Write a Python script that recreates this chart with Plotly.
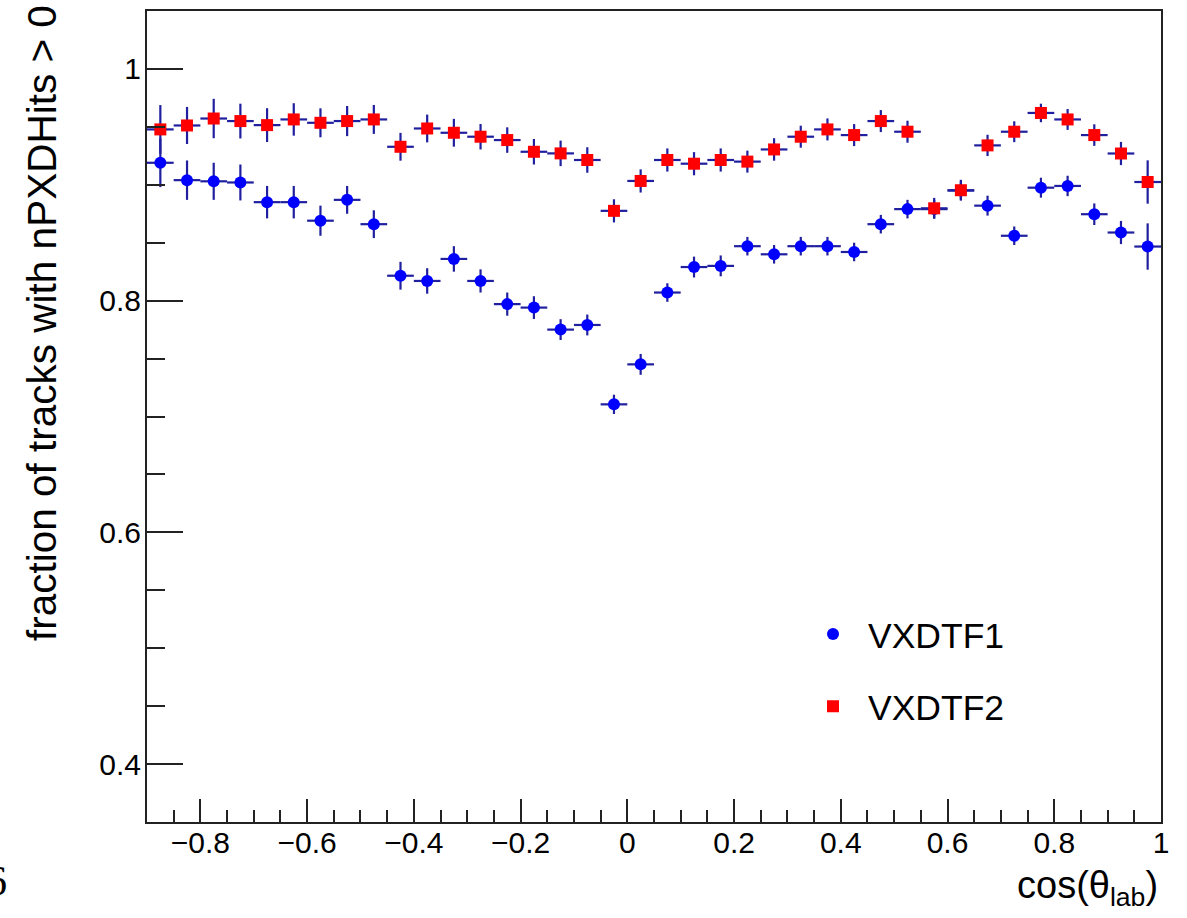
import plotly.graph_objects as go

# ---- data ----
bin_centers = [-0.875, -0.825, -0.775, -0.725, -0.675, -0.625, -0.575, -0.525, -0.475,
               -0.425, -0.375, -0.325, -0.275, -0.225, -0.175, -0.125, -0.075, -0.025,
               0.025, 0.075, 0.125, 0.175, 0.225, 0.275, 0.325, 0.375, 0.425, 0.475, 0.525,
               0.575, 0.625, 0.675, 0.725, 0.775, 0.825, 0.875, 0.925, 0.975]
bin_half_width = 0.025

vxdtf1 = [0.919, 0.904, 0.903, 0.902, 0.885, 0.885, 0.869, 0.887, 0.866,
          0.8215, 0.817, 0.836, 0.817, 0.797, 0.794, 0.775, 0.779, 0.7105,
          0.745, 0.807, 0.829, 0.830, 0.847, 0.840, 0.847, 0.847, 0.842, 0.866, 0.879,
          0.879, 0.895, 0.882, 0.856, 0.8975, 0.899, 0.8746, 0.8588, 0.8467]
vxdtf1_err = [0.021, 0.017, 0.016, 0.0155, 0.014, 0.014, 0.013, 0.012, 0.012,
              0.012, 0.011, 0.011, 0.010, 0.010, 0.0098, 0.009, 0.009, 0.0083,
              0.009, 0.008, 0.009, 0.009, 0.008, 0.008, 0.008, 0.008, 0.008, 0.008, 0.008,
              0.008, 0.008, 0.0086, 0.008, 0.0086, 0.0088, 0.0093, 0.010, 0.020]

vxdtf2 = [0.9478, 0.9512, 0.9572, 0.955, 0.9515, 0.9564, 0.9535, 0.955, 0.9564,
          0.9328, 0.9486, 0.9449, 0.9415, 0.9386, 0.9285, 0.9271, 0.9214, 0.8775,
          0.9033, 0.9214, 0.9182, 0.9214, 0.920, 0.9305, 0.9415, 0.9478, 0.9429, 0.955, 0.9458,
          0.8797, 0.8953, 0.934, 0.9458, 0.962, 0.9564, 0.9429, 0.927, 0.9024]
vxdtf2_err = [0.021, 0.016, 0.017, 0.015, 0.0146, 0.014, 0.0125, 0.013, 0.0125,
              0.012, 0.012, 0.012, 0.011, 0.011, 0.011, 0.011, 0.011, 0.010,
              0.010, 0.010, 0.010, 0.010, 0.0095, 0.0097, 0.0095, 0.0095, 0.0095, 0.0095, 0.0095,
              0.009, 0.009, 0.0092, 0.009, 0.008, 0.009, 0.0093, 0.010, 0.0187]

x_tickvals = [-0.8, -0.6, -0.4, -0.2, 0, 0.2, 0.4, 0.6, 0.8, 1]
x_ticktext = ["\u22120.8", "\u22120.6", "\u22120.4", "\u22120.2", "0", "0.2", "0.4", "0.6", "0.8", "1"]
y_tickvals = [0.4, 0.6, 0.8, 1]
y_ticktext = ["0.4", "0.6", "0.8", "1"]

FONT = "Liberation Sans, Arial, Helvetica, sans-serif"
ERR_COLOR = "#1f1f9f"

fig = go.Figure()

fig.add_trace(go.Scatter(
    x=bin_centers, y=vxdtf1, mode="markers", name="VXDTF1",
    legendgroup="g1",
    marker=dict(symbol="circle", size=12, color="#0000ff", line=dict(width=0)),
    error_x=dict(type="constant", value=bin_half_width, color=ERR_COLOR, thickness=2.2, width=0),
    error_y=dict(type="data", array=vxdtf1_err, color=ERR_COLOR, thickness=2.2, width=0),
))
fig.add_trace(go.Scatter(
    x=bin_centers, y=vxdtf2, mode="markers", name="VXDTF2",
    legendgroup="g2",
    marker=dict(symbol="square", size=12, color="#ff0000", line=dict(width=0)),
    error_x=dict(type="constant", value=bin_half_width, color=ERR_COLOR, thickness=2.2, width=0),
    error_y=dict(type="data", array=vxdtf2_err, color=ERR_COLOR, thickness=2.2, width=0),
))

L, R, T, B = 147, 26, 9, 96
W, H = 1187, 918
pw, ph = W - L - R, H - T - B


def px_x(p):
    return (p - L) / pw


def px_y(p):
    return (H - B - p) / ph


fig.update_layout(
    width=W, height=H,
    margin=dict(l=L, r=R, t=T, b=B),
    paper_bgcolor="white", plot_bgcolor="white",
    font=dict(family=FONT, color="black"),
    showlegend=True,
    legend=dict(
        x=px_x(798), y=px_y(604), xanchor="left", yanchor="top",
        font=dict(family=FONT, size=35.5, color="black"),
        bgcolor="rgba(0,0,0,0)", borderwidth=0,
        traceorder="grouped", tracegroupgap=23,
        itemwidth=60,
    ),
    xaxis=dict(
        range=[-0.9, 1.0], showgrid=False, zeroline=False,
        showline=True, linecolor="#222", linewidth=2, mirror=True,
        ticks="inside", ticklen=23, tickwidth=2, tickcolor="#222",
        tickvals=x_tickvals, ticktext=x_ticktext,
        tickfont=dict(family=FONT, size=30, color="black"),
        ticklabelstandoff=-7,
        minor=dict(ticks="inside", dtick=0.05, tick0=0, ticklen=12, tickwidth=2, tickcolor="#222"),
    ),
    yaxis=dict(
        range=[0.35, 1.05], showgrid=False, zeroline=False,
        showline=True, linecolor="#222", linewidth=2, mirror=True,
        ticks="inside", ticklen=36, tickwidth=2, tickcolor="#222",
        tickvals=y_tickvals, ticktext=y_ticktext,
        tickfont=dict(family=FONT, size=30, color="black"),
        ticklabelstandoff=-2,
        minor=dict(ticks="inside", dtick=0.05, tick0=0, ticklen=18, tickwidth=2, tickcolor="#222"),
    ),
    annotations=[
        dict(text="fraction of tracks with nPXDHits > 0", textangle=-90,
             xref="paper", yref="paper", x=px_x(42), y=px_y(1),
             xanchor="center", yanchor="top", showarrow=False,
             font=dict(family=FONT, size=40.5, color="black")),
        dict(text="cos(\u03b8<sub>lab</sub>)",
             xref="paper", yref="paper", x=px_x(1160), y=px_y(862),
             xanchor="right", yanchor="top", showarrow=False,
             font=dict(family=FONT, size=38, color="black")),
        dict(text="6",
             xref="paper", yref="paper", x=px_x(9), y=px_y(881),
             xanchor="right", yanchor="middle", showarrow=False,
             font=dict(family="Liberation Serif, DejaVu Serif, serif", size=42, color="black")),
    ],
)

fig.write_html("out.html")
